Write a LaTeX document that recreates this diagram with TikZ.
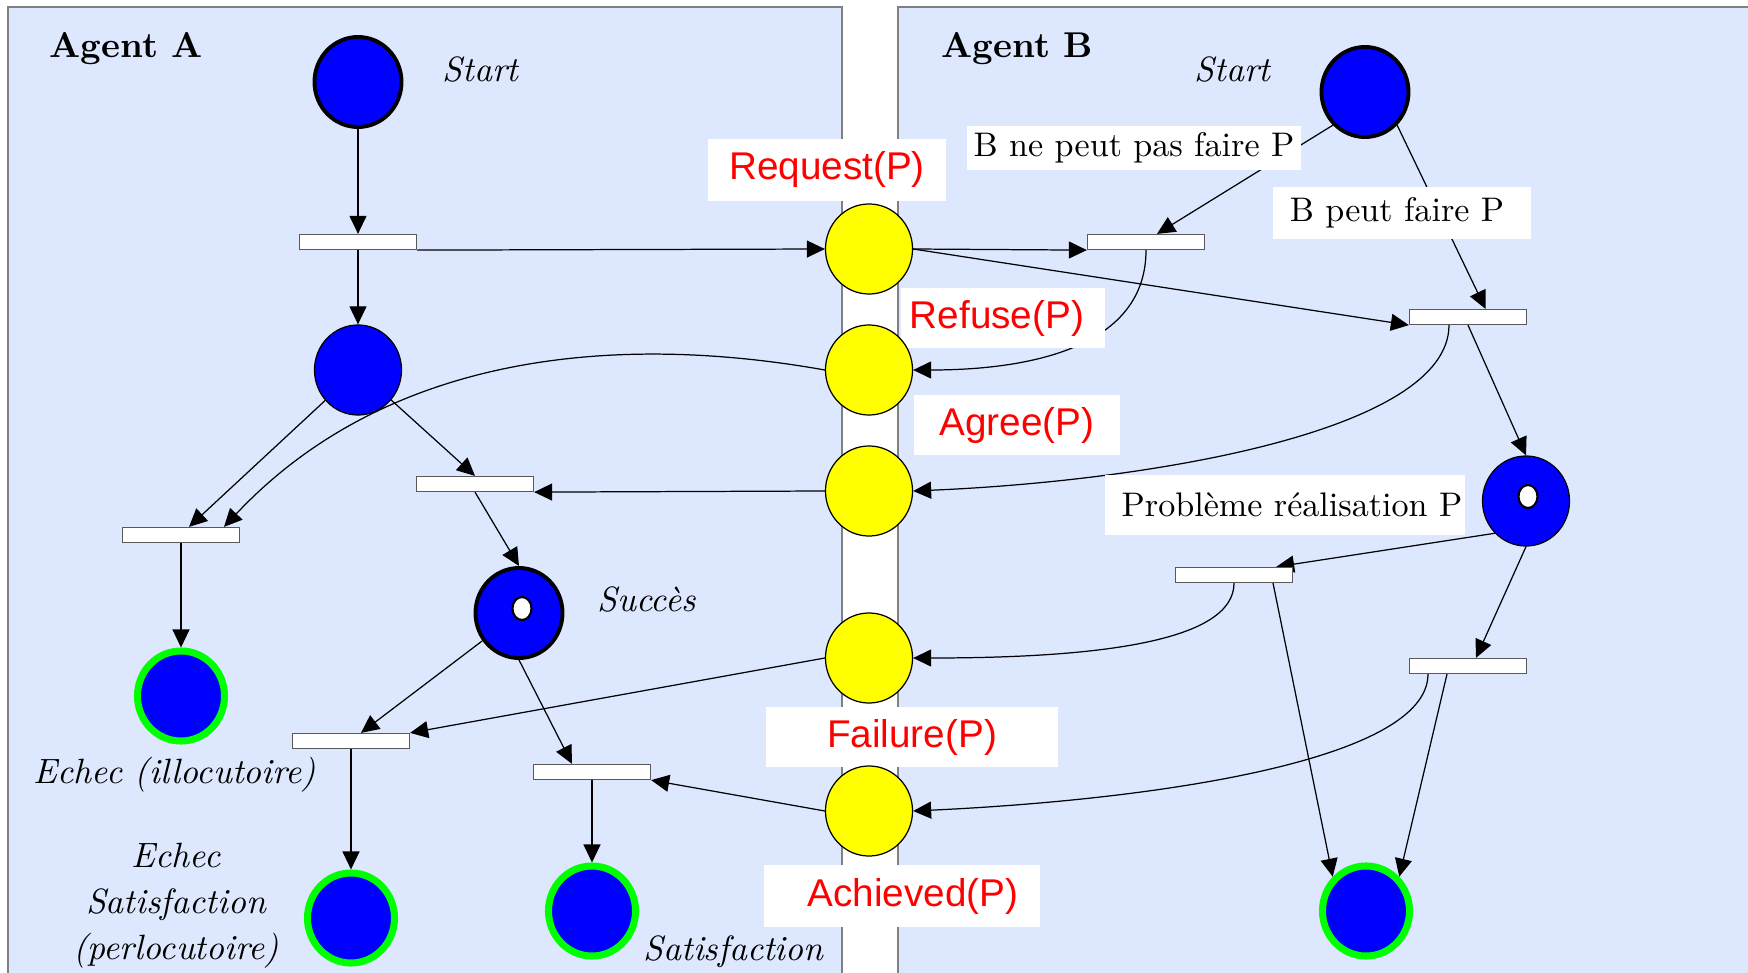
\documentclass[tikz,border=0pt]{standalone}
\usepackage{fontspec}
\newfontfamily\labelsans{Liberation Sans}
\usepackage{tikz}
\usetikzlibrary{shapes.geometric, arrows.meta, positioning, calc}
\definecolor{panelBlue}{RGB}{221, 232, 254}
\definecolor{placeBlue}{RGB}{0, 0, 255}
\definecolor{msgYellow}{RGB}{255, 255, 0}
\definecolor{ringGreen}{RGB}{0, 255, 0}
\definecolor{msgRed}{RGB}{255, 0, 0}
\pgfdeclarelayer{panels}
\pgfdeclarelayer{arcs}
\pgfdeclarelayer{tags}
\pgfsetlayers{panels,arcs,tags,main}
\tikzset{
  place/.style={
    ellipse, draw=black, fill=placeBlue, line width=0.35pt,
    minimum width=0.87cm, minimum height=0.9cm, inner sep=0pt
  },
  startplace/.style={place, line width=1.1pt},
  goalplace/.style={place, draw=ringGreen, line width=2pt},
  msgplace/.style={place, fill=msgYellow},
  token/.style={
    ellipse, draw=black, fill=white, line width=0.6pt,
    minimum width=0.19cm, minimum height=0.23cm, inner sep=0pt
  },
  trans/.style={
    rectangle, draw=black!65, fill=white, line width=0.35pt,
    minimum width=1.17cm, minimum height=0.15cm, inner sep=0pt
  },
  msglabel/.style={
    rectangle, fill=white, inner sep=0pt,
    font=\labelsans\fontsize{11}{13}\selectfont, text=msgRed
  },
  condlabel/.style={
    rectangle, fill=white, inner sep=0pt,
    font=\fontsize{9.7}{11.6}\selectfont
  },
  statelabel/.style={inner sep=0pt, font=\itshape\fontsize{10}{13.1}\selectfont},
  agentlabel/.style={inner sep=0pt, font=\bfseries\fontsize{10.2}{12}\selectfont},
  arc/.style={-{Triangle[length=0.18cm,width=0.17cm]}, line width=0.35pt, black},
  panel/.style={fill=panelBlue, draw=black!50, line width=0.35pt}
}

\begin{document}
\begin{tikzpicture}[x=0.01cm, y=-0.01cm]
  \useasboundingbox (0,0) rectangle (1748,973);

  % Agent panels
  \begin{pgfonlayer}{panels}
    \fill[white] (0,0) rectangle (1748,973);
    \filldraw[panel] (8,7) rectangle (842,1000);
    \filldraw[panel] (898,7) rectangle (1760,1000);
  \end{pgfonlayer}

  \node[agentlabel, anchor=base west] (agentA) at (49,58) {Agent A};
  \node[agentlabel, anchor=base west] (agentB) at (941,58) {Agent B};

  % Message places (shared column)
  \node[msgplace] (msg1) at (869,249) {};
  \node[msgplace] (msg2) at (869,370) {};
  \node[msgplace] (msg3) at (869,491) {};
  \node[msgplace] (msg4) at (869,658) {};
  \node[msgplace] (msg5) at (869,811) {};

  % Agent A places and transitions
  \node[startplace] (startA) at (358,82) {};
  \node[place] (waitA) at (358,370) {};
  \node[startplace] (succA) at (519,613) {};
  \node[token] (tokA) at ([shift={(3,-4.5)}]succA.center) {};
  \node[goalplace] (failA) at (181,696) {};
  \node[goalplace] (echecA) at (351,918) {};
  \node[goalplace] (satA) at (592,911) {};

  \node[trans] (tA1) at (358,242) {};
  \node[trans] (tA2) at (475,484) {};
  \node[trans] (tA3) at (181,535) {};
  \node[trans] (tA4) at (351,741) {};
  \node[trans] (tA5) at (592,772) {};

  % Agent B places and transitions
  \node[startplace] (startB) at (1365,92) {};
  \node[place] (probB) at (1526,501) {};
  \node[token] (tokB) at ([shift={(2,-4.5)}]probB.center) {};
  \node[goalplace] (doneB) at (1366,911) {};

  \node[trans] (tB1) at (1146,242) {};
  \node[trans] (tB2) at (1468,317) {};
  \node[trans] (tB3) at (1234,575) {};
  \node[trans] (tB4) at (1468,666) {};

  % State labels
  \node[statelabel, anchor=base west] (startAtxt) at (442,82) {Start};
  \node[statelabel, anchor=base west] (startBtxt) at (1194,82) {Start};
  \node[statelabel, anchor=base west] (succtxt) at (597,611) {Succès};
  \node[statelabel, anchor=base west] (illoctxt) at (33,783) {Echec (illocutoire)};
  \node[statelabel, anchor=north, align=center] (perloctxt) at (176,842)
    {Echec\\Satisfaction\\(perlocutoire)};
  \node[statelabel, anchor=base west] (sattxt) at (643,960) {Satisfaction};

  % Message and condition boxes (over the arcs)
  \begin{pgfonlayer}{tags}
    \node[msglabel, minimum width=2.38cm, minimum height=0.61cm] (lReq) at (827,170) {Request(P)};
    \node[msglabel, minimum width=2.03cm, minimum height=0.60cm] (lRef) at (1003,318) {Refuse(P)\hspace*{0.12cm}};
    \node[msglabel, minimum width=2.05cm, minimum height=0.60cm] (lAgr) at (1017,425) {Agree(P)};
    \node[msglabel, minimum width=2.91cm, minimum height=0.60cm] (lFail) at (912,737) {Failure(P)};
    \node[msglabel, minimum width=2.75cm, minimum height=0.61cm] (lAch) at (902,896) {\hspace*{0.22cm}Achieved(P)};
    \node[condlabel, minimum width=3.34cm, minimum height=0.43cm] (lCannot) at (1134,148) {B ne peut pas faire P};
    \node[condlabel, minimum width=2.57cm, minimum height=0.52cm] (lCan) at (1402,213) {B peut faire P\hspace*{0.1cm}};
    \node[condlabel, minimum width=3.60cm, minimum height=0.60cm] (lProb) at (1285,505) {\hspace*{0.14cm}Problème réalisation P};
  \end{pgfonlayer}

  \begin{pgfonlayer}{arcs}
    % Agent A arcs
    \draw[arc] (startA) -- (tA1);
    \draw[arc] (tA1) -- (waitA);
    \draw[arc] (tA1.south east) -- (msg1.west);
    \draw[arc] (waitA) -- ([xshift=0.08cm]tA3.north);
    \draw[arc] (waitA) -- (tA2.north);
    \draw[arc] (msg3.west) -- (tA2.south east);
    \draw[arc] (msg2.west) .. controls +(-225,-40) and +(156,-166) .. ([xshift=0.43cm]tA3.north);
    \draw[arc] (tA3) -- (failA);
    \draw[arc] (tA2.south) -- (succA.north);
    \draw[arc] (succA) -- ([xshift=0.1cm]tA4.north);
    \draw[arc] (msg4.west) -- (tA4.north east);
    \draw[arc] (succA.south) -- ([xshift=-0.2cm]tA5.north);
    \draw[arc] (msg5.west) -- (tA5.south east);
    \draw[arc] (tA4) -- (echecA);
    \draw[arc] (tA5) -- (satA);

    % Agent B arcs
    \draw[arc] (startB.south west) -- ([xshift=0.11cm]tB1.north);
    \draw[arc] (startB.south east) -- ([xshift=0.175cm]tB2.north);
    \draw[arc] (msg1.east) -- (tB1.south west);
    \draw[arc] (msg1.east) -- (tB2.south west);
    \draw[arc] (tB1.south) .. controls +(0,103) and +(103,0) .. (msg2.east);
    \draw[arc] ([xshift=-0.19cm]tB2.south) .. controls +(0,106) and +(237,-10) .. (msg3.east);
    \draw[arc] (tB2.south) -- (probB.north);
    \draw[arc] (probB.south west) -- ([xshift=-0.17cm]tB3.north east);
    \draw[arc] (probB.south) -- ([xshift=0.08cm]tB4.north);
    \draw[arc] (tB3.south) .. controls +(0,58) and +(187,0) .. (msg4.east);
    \draw[arc] ([xshift=-0.4cm]tB4.south) .. controls +(0,87) and +(238,-11) .. (msg5.east);
    \draw[arc] ([xshift=0.39cm]tB3.south) -- (doneB.north west);
    \draw[arc] ([xshift=-0.21cm]tB4.south) -- (doneB.north east);
  \end{pgfonlayer}
\end{tikzpicture}
\end{document}
